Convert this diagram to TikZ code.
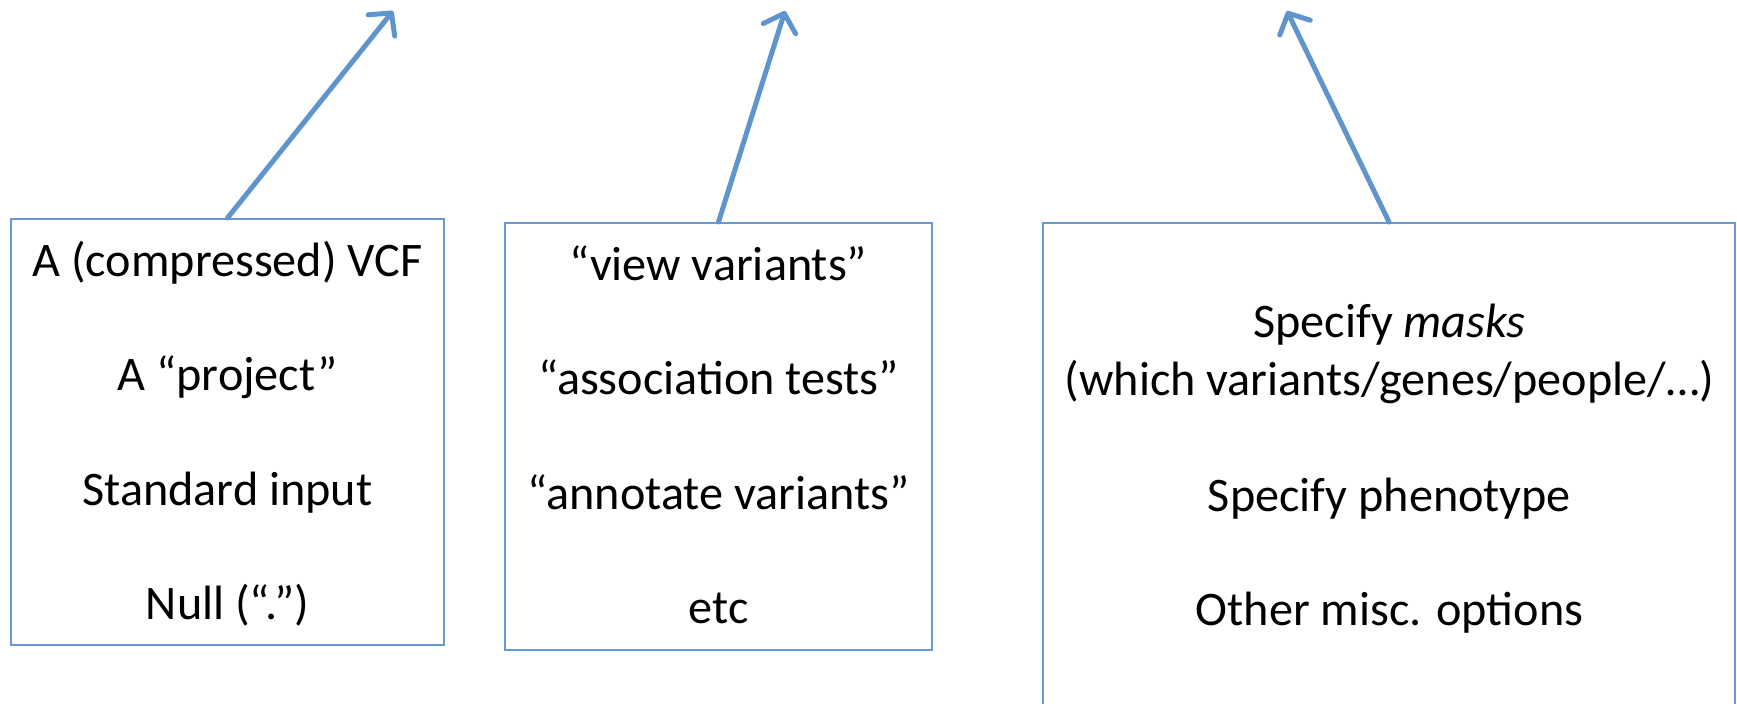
\documentclass[tikz,border=0pt]{standalone}
\usepackage{fontspec}
\setmainfont{Carlito}
\usetikzlibrary{arrows.meta}
\definecolor{boxblue}{RGB}{104,153,208}
\definecolor{arrowblue}{RGB}{96,148,205}
\begin{document}
\begin{tikzpicture}[x=0.5pt,y=-0.5pt,
  box/.style={draw=boxblue, line width=1pt, inner sep=0pt, rectangle},
  txt/.style={anchor=base, inner sep=0pt, font=\fontsize{24.1}{29}\selectfont},
  conn/.style={draw=arrowblue, line width=2.5pt, line cap=round,
    -{Straight Barb[length=8pt, width=17pt, round]}}]
\useasboundingbox (0,0) rectangle (1737,704);

% boxes
\node[box, minimum width=216.5pt, minimum height=213pt] (b1) at (227.5,432) {};
\node[box, minimum width=213.5pt, minimum height=213.5pt] (b2) at (718.5,436.5) {};
\node[box, minimum width=346pt, minimum height=250pt] (b3) at (1389,473) {};

% box 1 text
\node[txt] (b1l1) at (227.5,277) {A (compressed) VCF};
\node[txt] (b1l2) at (227.5,391) {A “project”};
\node[txt] (b1l3) at (227.5,506) {Standard input};
\node[txt] (b1l4) at (227.5,620) {Null (“.”)};

% box 2 text
\node[txt] (b2l1) at (718.5,281) {“view variants”};
\node[txt] (b2l2) at (718.5,395) {“association tests”};
\node[txt] (b2l3) at (718.5,510) {“annotate variants”};
\node[txt] (b2l4) at (718.5,624) {etc};

% box 3 text
\node[txt] (b3l1) at (1389.5,338) {Specify \textit{masks}};
\node[txt] (b3l2) at (1389.5,396) {(which variants/genes/people/…)};
\node[txt] (b3l3) at (1389.5,512) {Specify phenotype};
\node[txt] (b3l4) at (1389.5,626) {Other misc. options};

% arrow tips
\coordinate (t1) at (393,11);
\coordinate (t2) at (785,11);
\coordinate (t3) at (1287,11);

\draw[conn] (b1.north) -- (t1);
\draw[conn] (b2.north) -- (t2);
\draw[conn] (b3.north) -- (t3);
\end{tikzpicture}
\end{document}
